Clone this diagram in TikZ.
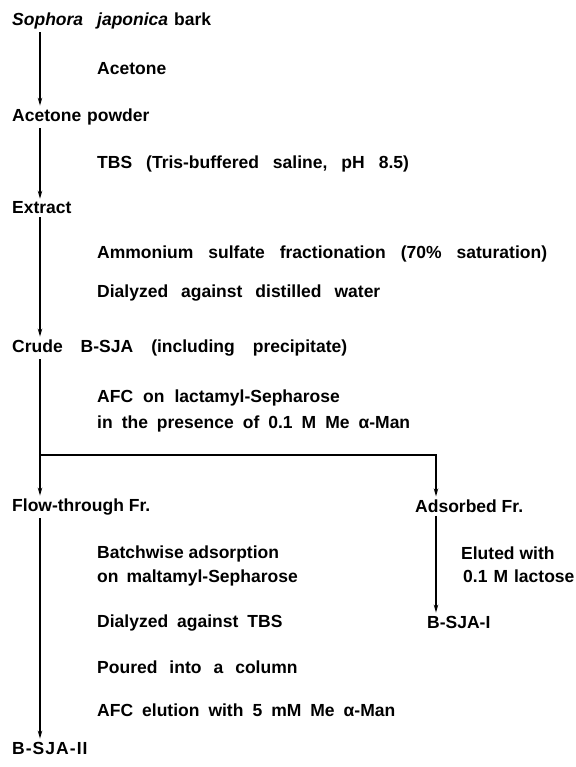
\documentclass[tikz,border=0pt]{standalone}
\usepackage{fontspec}
\usetikzlibrary{arrows.meta}
\newfontfamily\nf{Liberation Sans}
\newfontfamily\lf[LetterSpace=6]{Liberation Sans}
\newcommand\wordgap[1]{\spaceskip=#1pt\relax}
\tikzset{
  lbl/.style={anchor=west, inner sep=0pt, font=\nf\bfseries\fontsize{17.5}{20}\selectfont},
  sp/.style={lbl, execute at begin node={\wordgap{#1}}},
  llbl/.style={anchor=west, inner sep=0pt, font=\lf\bfseries\fontsize{17.5}{20}\selectfont},
  arr/.style={line width=1.2pt, -{Stealth[length=8pt,width=4.5pt]}},
  ln/.style={line width=1.2pt}
}
\begin{document}
\begin{tikzpicture}[x=1pt,y=-1pt]
\path[use as bounding box] (0,0) rectangle (575,767);
% main column
\node[lbl] (s0) at (12,21) {\itshape Sophora\hspace{14pt}japonica\upshape\hspace{6pt}bark};
\node[lbl]  (c1) at (97,69) {Acetone};
\node[sp=6] (s1) at (12,117) {Acetone powder};
\node[sp=14] (c2) at (97,164) {TBS (Tris-buffered saline, pH 8.5)};
\node[lbl] (s2) at (12,208) {Extract};
\node[sp=15] (c3) at (97,254) {Ammonium sulfate fractionation (70\% saturation)};
\node[sp=13] (c4) at (97,293) {Dialyzed against distilled water};
\node[sp=18] (s3) at (12,348) {Crude B-SJA (including precipitate)};
\node[sp=10] (c5) at (97,398) {AFC on lactamyl-Sepharose};
\node[sp=9] (c6) at (97,424) {in the presence of 0.1 M Me α-Man};
\node[lbl]  (s4) at (12,507) {Flow-through Fr.};
\node[lbl]  (s5) at (415,506) {Adsorbed Fr.};
\node[lbl]  (c7) at (97,554) {Batchwise adsorption};
\node[sp=8] (c8) at (97,578) {on maltamyl-Sepharose};
\node[sp=9] (c9) at (97,623) {Dialyzed against TBS};
\node[sp=12] (c10) at (97,667) {Poured into a column};
\node[sp=9] (c11) at (97,710) {AFC elution with 5 mM Me α-Man};
\node[llbl] (s6) at (12,748) {B-SJA-II};
\node[lbl]  (c12) at (461,553) {Eluted with};
\node[sp=6] (c13) at (463,576) {0.1 M lactose};
\node[lbl]  (s7) at (427,622) {B-SJA-I};
% connectors
\coordinate (xl) at (40,0);
\coordinate (br) at (40,455);
\coordinate (brR) at (436,455);
\draw[arr] ([yshift=-3pt]s0.south -| xl) -- ([yshift=3pt]s1.north -| xl);
\draw[arr] ([yshift=-3pt]s1.south -| xl) -- ([yshift=3pt]s2.north -| xl);
\draw[arr] ([yshift=-3pt]s2.south -| xl) -- ([yshift=3pt]s3.north -| xl);
\draw[ln]  ([yshift=-3pt]s3.south -| xl) -- (br);
\draw[arr] (br) -- ([yshift=3pt]s4.north -| br);
\draw[arr] (br) -- (brR) -- ([yshift=3pt]s5.north -| brR);
\draw[arr] ([yshift=-3pt]s5.south -| brR) -- ([yshift=3pt]s7.north -| brR);
\draw[arr] ([yshift=-3pt]s4.south -| xl) -- ([yshift=3pt]s6.north -| xl);
\end{tikzpicture}
\end{document}
